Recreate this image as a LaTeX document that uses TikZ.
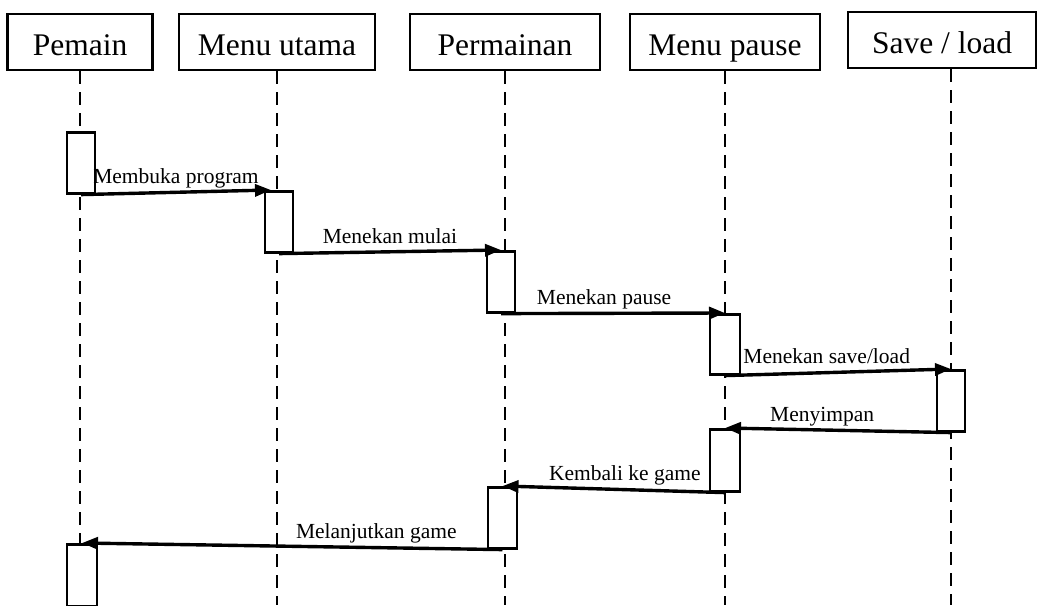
\documentclass[tikz,border=0pt]{standalone}
\usepackage{fontspec}
\setmainfont{Liberation Serif}
\usetikzlibrary{arrows.meta}
\begin{document}
\begin{tikzpicture}[x=1pt,y=-1pt,
  head/.style={draw,line width=2.8pt,fill=white,minimum width=#1,minimum height=56pt,
    inner sep=0pt,text height=30pt,text depth=4pt,font=\fontsize{31.5}{36}\selectfont},
  lifeline/.style={line width=2.8pt,dash pattern=on 13pt off 8pt},
  act/.style={draw,line width=2.6pt,fill=white,minimum width=28pt,inner sep=0pt,anchor=north},
  msg/.style={line width=3.4pt,-{Triangle[length=16pt,width=12pt]}},
  lbl/.style={font=\fontsize{21.5}{24}\selectfont,inner sep=2pt,text height=15pt,text depth=5pt}]
\useasboundingbox (0,0) rectangle (1044,605);

% participants
\node[head=145pt] (pemain) at (80,42) {Pemain};
\node[head=196pt] (menu)   at (277,42) {Menu utama};
\node[head=190pt] (game)   at (505,42) {Permainan};
\node[head=190pt] (pause)  at (725,42) {Menu pause};
\node[head=188pt] (save)   at (942,40) {Save / load};

% lifeline ends
\coordinate (pemainEnd) at (80,605);
\coordinate (menuEnd)   at (277,605);
\coordinate (gameEnd)   at (505,605);
\coordinate (pauseEnd)  at (725,605);
\coordinate (saveEnd)   at (951,605);

\draw[lifeline] (pemain.south) -- (pemainEnd);
\draw[lifeline] (menu.south) -- (menuEnd);
\draw[lifeline] (game.south) -- (gameEnd);
\draw[lifeline] (pause.south) -- (pauseEnd);
\draw[lifeline] (save.south -| saveEnd) -- (saveEnd);

% activation bars
\node[act,minimum height=61pt] (a1) at (81,131) {};
\node[act,minimum height=61pt] (a2) at (279,190) {};
\node[act,minimum height=61pt] (a3) at (501,250) {};
\node[act,minimum height=60pt,minimum width=30pt] (a4) at (725,313) {};
\node[act,minimum height=61pt] (a5) at (951,369) {};
\node[act,minimum height=62pt,minimum width=30pt] (a6) at (725,428) {};
\node[act,minimum height=61pt,minimum width=29pt] (a7) at (502.5,486) {};
\node[act,minimum height=62pt,minimum width=30pt] (a8) at (82,543) {};

% messages
\draw[msg] (a1.south) -- ([xshift=-8pt]a2.north) node[lbl,midway,above] {Membuka program};
\draw[msg] (a2.south) -- (a3.north) node[lbl,midway,above] {Menekan mulai};
\draw[msg] (a3.south) -- (a4.north) node[lbl,pos=0.46,above] {Menekan pause};
\draw[msg] (a4.south) -- (a5.north) node[lbl,pos=0.45,above] {Menekan save/load};
\draw[msg] (a5.south) -- (a6.north) node[lbl,pos=0.57,above] {Menyimpan};
\draw[msg] (a6.south) -- (a7.north) node[lbl,pos=0.45,above] {Kembali ke game};
\draw[msg] (a7.south) -- (a8.north) node[lbl,pos=0.3,above] {Melanjutkan game};
\end{tikzpicture}
\end{document}
